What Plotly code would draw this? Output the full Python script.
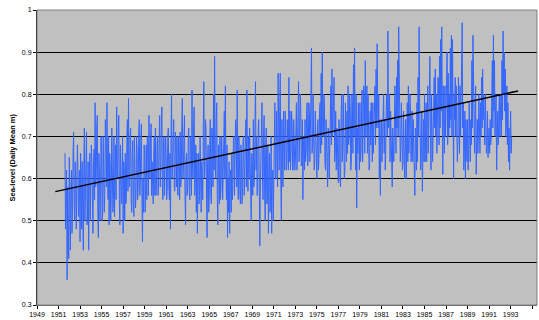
import plotly.graph_objects as go

# ---- data ----
# Values at every 0.1 year starting 1951.6 (local readings of the daily trace)
START_YEAR = 1951.6
STEP_YEARS = 0.1
sea_level_tenths = [
    0.66, 0.55, 0.36, 0.50,
    0.65, 0.43, 0.62, 0.52, 0.71, 0.50, 0.60, 0.55, 0.63, 0.57,  # 1952
    0.45, 0.60, 0.64, 0.43, 0.72, 0.58, 0.71, 0.52, 0.43, 0.66,  # 1953
    0.58, 0.63, 0.47, 0.67, 0.78, 0.60, 0.75, 0.46, 0.62, 0.55,  # 1954
    0.66, 0.52, 0.64, 0.57, 0.69, 0.78, 0.55, 0.49, 0.63, 0.56,  # 1955
    0.66, 0.55, 0.51, 0.68, 0.77, 0.60, 0.75, 0.49, 0.62, 0.60,  # 1956
    0.47, 0.62, 0.66, 0.55, 0.74, 0.79, 0.58, 0.72, 0.52, 0.69,  # 1957
    0.51, 0.64, 0.56, 0.66, 0.58, 0.74, 0.60, 0.73, 0.45, 0.52,  # 1958
    0.66, 0.58, 0.55, 0.68, 0.75, 0.60, 0.73, 0.64, 0.54, 0.70,  # 1959
    0.72, 0.58, 0.70, 0.60, 0.75, 0.62, 0.77, 0.55, 0.70, 0.63,  # 1960
    0.66, 0.58, 0.72, 0.55, 0.48, 0.80, 0.64, 0.74, 0.57, 0.68,  # 1961
    0.70, 0.56, 0.66, 0.71, 0.60, 0.79, 0.62, 0.75, 0.49, 0.66,  # 1962
    0.58, 0.72, 0.55, 0.68, 0.81, 0.60, 0.77, 0.59, 0.52, 0.47,  # 1963
    0.66, 0.56, 0.62, 0.64, 0.55, 0.83, 0.62, 0.72, 0.46, 0.68,  # 1964
    0.55, 0.74, 0.54, 0.70, 0.80, 0.89, 0.60, 0.78, 0.49, 0.63,  # 1965
    0.70, 0.58, 0.66, 0.62, 0.76, 0.82, 0.55, 0.46, 0.52, 0.47,  # 1966
    0.62, 0.66, 0.58, 0.70, 0.62, 0.72, 0.81, 0.55, 0.66, 0.54,  # 1967
    0.64, 0.58, 0.70, 0.62, 0.74, 0.81, 0.57, 0.60, 0.66, 0.50,  # 1968
    0.64, 0.74, 0.60, 0.83, 0.70, 0.58, 0.74, 0.44, 0.64, 0.78,  # 1969
    0.55, 0.75, 0.50, 0.72, 0.55, 0.47, 0.66, 0.56, 0.47, 0.62,  # 1970
    0.58, 0.78, 0.60, 0.68, 0.85, 0.62, 0.85, 0.50, 0.66, 0.76,  # 1971
    0.62, 0.72, 0.64, 0.68, 0.84, 0.76, 0.66, 0.73, 0.62, 0.70,  # 1972
    0.64, 0.78, 0.70, 0.83, 0.72, 0.77, 0.64, 0.55, 0.70, 0.74,  # 1973
    0.66, 0.78, 0.67, 0.76, 0.70, 0.91, 0.68, 0.74, 0.64, 0.70,  # 1974
    0.60, 0.74, 0.66, 0.78, 0.85, 0.90, 0.70, 0.78, 0.62, 0.66,  # 1975
    0.58, 0.70, 0.66, 0.82, 0.86, 0.72, 0.84, 0.66, 0.62, 0.70,  # 1976
    0.59, 0.72, 0.58, 0.80, 0.68, 0.74, 0.62, 0.72, 0.76, 0.82,  # 1977
    0.70, 0.76, 0.64, 0.78, 0.87, 0.91, 0.62, 0.53, 0.66, 0.72,  # 1978
    0.78, 0.66, 0.81, 0.70, 0.80, 0.88, 0.74, 0.66, 0.72, 0.63,  # 1979
    0.68, 0.70, 0.78, 0.72, 0.82, 0.86, 0.92, 0.72, 0.60, 0.56,  # 1980
    0.74, 0.70, 0.80, 0.74, 0.66, 0.80, 0.95, 0.74, 0.64, 0.70,  # 1981
    0.58, 0.68, 0.72, 0.76, 0.84, 0.88, 0.96, 0.74, 0.68, 0.72,  # 1982
    0.64, 0.68, 0.66, 0.60, 0.78, 0.82, 0.72, 0.76, 0.70, 0.64,  # 1983
    0.68, 0.56, 0.70, 0.78, 0.84, 0.96, 0.72, 0.66, 0.57, 0.74,  # 1984
    0.80, 0.72, 0.64, 0.82, 0.75, 0.89, 0.62, 0.72, 0.70, 0.84,  # 1985
    0.86, 0.80, 0.76, 0.82, 0.89, 0.93, 0.96, 0.61, 0.74, 0.82,  # 1986
    0.76, 0.90, 0.85, 0.80, 0.91, 0.94, 0.93, 0.60, 0.74, 0.70,  # 1987
    0.76, 0.68, 0.78, 0.82, 0.78, 0.97, 0.78, 0.66, 0.60, 0.70,  # 1988
    0.74, 0.66, 0.72, 0.74, 0.88, 0.94, 0.84, 0.76, 0.61, 0.74,  # 1989
    0.70, 0.72, 0.78, 0.84, 0.86, 0.80, 0.68, 0.72, 0.68, 0.65,  # 1990
    0.72, 0.74, 0.70, 0.88, 0.94, 0.88, 0.74, 0.62, 0.76, 0.72,  # 1991
    0.70, 0.80, 0.88, 0.95, 0.90, 0.86, 0.72, 0.68, 0.64, 0.62,  # 1992
    0.76, 0.70,                                                  # 1993
]
# Values read half-way between the tenths above (the opposite swing of the trace)
sea_level_halves = [
    0.48, 0.62, 0.58, 0.41,
    0.50, 0.58, 0.47, 0.66, 0.55, 0.64, 0.48, 0.68, 0.51, 0.62,  # 1952
    0.66, 0.48, 0.52, 0.62, 0.50, 0.68, 0.49, 0.64, 0.60, 0.50,  # 1953
    0.68, 0.50, 0.64, 0.55, 0.58, 0.72, 0.52, 0.66, 0.50, 0.70,  # 1954
    0.50, 0.70, 0.52, 0.74, 0.58, 0.62, 0.70, 0.66, 0.50, 0.72,  # 1955
    0.52, 0.70, 0.64, 0.55, 0.62, 0.72, 0.55, 0.68, 0.54, 0.70,  # 1956
    0.64, 0.50, 0.54, 0.70, 0.57, 0.62, 0.70, 0.55, 0.66, 0.54,  # 1957
    0.70, 0.53, 0.70, 0.55, 0.70, 0.56, 0.70, 0.55, 0.60, 0.68,  # 1958
    0.52, 0.68, 0.70, 0.56, 0.62, 0.70, 0.56, 0.58, 0.66, 0.56,  # 1959
    0.56, 0.68, 0.56, 0.70, 0.58, 0.72, 0.58, 0.68, 0.56, 0.70,  # 1960
    0.55, 0.70, 0.58, 0.66, 0.70, 0.60, 0.72, 0.58, 0.71, 0.58,  # 1961
    0.58, 0.70, 0.55, 0.58, 0.72, 0.60, 0.70, 0.56, 0.64, 0.56,  # 1962
    0.70, 0.57, 0.70, 0.56, 0.62, 0.72, 0.56, 0.68, 0.66, 0.62,  # 1963
    0.54, 0.70, 0.52, 0.57, 0.72, 0.60, 0.74, 0.55, 0.64, 0.52,  # 1964
    0.68, 0.56, 0.72, 0.58, 0.62, 0.66, 0.74, 0.55, 0.68, 0.54,  # 1965
    0.55, 0.70, 0.55, 0.72, 0.60, 0.62, 0.68, 0.60, 0.64, 0.60,  # 1966
    0.52, 0.55, 0.70, 0.56, 0.74, 0.58, 0.60, 0.70, 0.56, 0.68,  # 1967
    0.54, 0.70, 0.56, 0.72, 0.58, 0.62, 0.70, 0.72, 0.55, 0.66,  # 1968
    0.56, 0.58, 0.72, 0.62, 0.56, 0.72, 0.58, 0.58, 0.72, 0.60,  # 1969
    0.70, 0.56, 0.68, 0.54, 0.68, 0.60, 0.52, 0.70, 0.60, 0.50,  # 1970
    0.70, 0.60, 0.76, 0.58, 0.66, 0.76, 0.60, 0.74, 0.58, 0.62,  # 1971
    0.76, 0.62, 0.74, 0.62, 0.64, 0.62, 0.76, 0.62, 0.74, 0.62,  # 1972
    0.74, 0.62, 0.78, 0.64, 0.80, 0.63, 0.74, 0.68, 0.62, 0.64,  # 1973
    0.76, 0.63, 0.78, 0.64, 0.80, 0.66, 0.80, 0.62, 0.76, 0.64,  # 1974
    0.70, 0.62, 0.76, 0.66, 0.68, 0.72, 0.80, 0.64, 0.74, 0.62,  # 1975
    0.72, 0.60, 0.76, 0.68, 0.70, 0.80, 0.64, 0.76, 0.72, 0.62,  # 1976
    0.74, 0.60, 0.74, 0.64, 0.80, 0.60, 0.78, 0.64, 0.66, 0.68,  # 1977
    0.80, 0.62, 0.80, 0.66, 0.70, 0.74, 0.80, 0.72, 0.78, 0.62,  # 1978
    0.64, 0.76, 0.64, 0.82, 0.66, 0.70, 0.82, 0.80, 0.62, 0.76,  # 1979
    0.78, 0.64, 0.66, 0.82, 0.68, 0.72, 0.76, 0.80, 0.74, 0.70,  # 1980
    0.64, 0.78, 0.66, 0.62, 0.78, 0.70, 0.72, 0.80, 0.76, 0.62,  # 1981
    0.72, 0.64, 0.82, 0.66, 0.72, 0.70, 0.80, 0.64, 0.78, 0.62,  # 1982
    0.76, 0.60, 0.74, 0.72, 0.64, 0.66, 0.80, 0.64, 0.76, 0.74,  # 1983
    0.62, 0.72, 0.62, 0.64, 0.70, 0.78, 0.62, 0.76, 0.66, 0.64,  # 1984
    0.64, 0.78, 0.74, 0.66, 0.80, 0.70, 0.80, 0.64, 0.80, 0.72,  # 1985
    0.70, 0.66, 0.84, 0.68, 0.72, 0.76, 0.74, 0.82, 0.66, 0.70,  # 1986
    0.88, 0.68, 0.70, 0.72, 0.74, 0.70, 0.76, 0.80, 0.84, 0.82,  # 1987
    0.64, 0.84, 0.66, 0.70, 0.86, 0.72, 0.62, 0.76, 0.74, 0.64,  # 1988
    0.62, 0.78, 0.64, 0.68, 0.72, 0.78, 0.66, 0.82, 0.72, 0.66,  # 1989
    0.80, 0.66, 0.70, 0.72, 0.74, 0.70, 0.80, 0.66, 0.76, 0.70,  # 1990
    0.66, 0.68, 0.80, 0.72, 0.76, 0.70, 0.80, 0.70, 0.68, 0.80,  # 1991
    0.74, 0.70, 0.74, 0.80, 0.76, 0.70, 0.82, 0.78, 0.72, 0.70,  # 1992
    0.66,                                                        # 1993
]

# merge the two readings into one time-ordered series
years, sea_level = [], []
for i, v in enumerate(sea_level_tenths):
    years.append(START_YEAR + STEP_YEARS * i)
    sea_level.append(v)
    if i < len(sea_level_halves):
        years.append(START_YEAR + STEP_YEARS * i + STEP_YEARS / 2)
        sea_level.append(sea_level_halves[i])

trend_years = [1950.7, 1993.7]
trend_values = [0.569, 0.808]

x_tick_values = list(range(1949, 1996, 2))
x_tick_labels = [str(v) for v in x_tick_values]
y_tick_values = [0.3, 0.4, 0.5, 0.6, 0.7, 0.8, 0.9, 1.0]
y_tick_labels = ["0.3", "0.4", "0.5", "0.6", "0.7", "0.8", "0.9", "1"]

y_title = "Sea-level (Daily Mean m)"

fig = go.Figure()
fig.add_trace(go.Scatter(
    x=years, y=sea_level, mode="lines",
    line=dict(color="#3366FF", width=1),
    hoverinfo="skip", showlegend=False,
))
fig.add_trace(go.Scatter(
    x=trend_years, y=trend_values, mode="lines",
    line=dict(color="#000000", width=1.5),
    hoverinfo="skip", showlegend=False,
))

font = "Liberation Sans, Arial, sans-serif"
fig.update_layout(
    width=539, height=320,
    margin=dict(l=37, r=2, t=10, b=13),
    paper_bgcolor="#FFFFFF",
    plot_bgcolor="#C0C0C0",
    font=dict(family=font, size=7, color="#000000"),
    xaxis=dict(
        range=[1949, 1995.45],
        tickmode="array", tickvals=x_tick_values, ticktext=x_tick_labels,
        ticks="outside", ticklen=3, tickcolor="#000000", tickwidth=1,
        showgrid=False, zeroline=False,
        showline=True, linecolor="#606060", linewidth=1,
        tickfont=dict(size=7, family=font, color="#000000"),
        fixedrange=True,
    ),
    yaxis=dict(
        range=[0.3, 1.0],
        tickmode="array", tickvals=y_tick_values, ticktext=y_tick_labels,
        ticks="outside", ticklen=3, tickcolor="#000000", tickwidth=1,
        showgrid=True, gridcolor="#000000", gridwidth=1,
        zeroline=False,
        showline=True, linecolor="#000000", linewidth=1,
        tickfont=dict(size=7, family=font, color="#000000"),
        fixedrange=True,
    ),
    shapes=[dict(
        type="rect", xref="paper", yref="paper", x0=0, y0=0, x1=1, y1=1,
        line=dict(color="#808080", width=1), layer="above",
    )],
    annotations=[dict(
        text="<b>" + y_title + "</b>", xref="paper", yref="paper",
        x=0, y=0.5, xshift=-25, textangle=-90, showarrow=False,
        xanchor="center", yanchor="middle",
        font=dict(size=7.5, family=font, color="#000000"),
    )],
)

fig.write_html(
    "out.html",
    config={"displayModeBar": False, "staticPlot": True},
    post_script="document.body.style.margin='0';document.body.style.padding='0';",
)
